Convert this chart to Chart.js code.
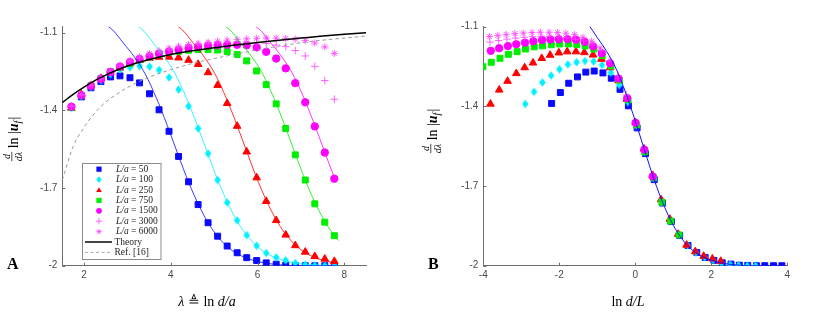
<!DOCTYPE html>
<html>
<head>
<meta charset="utf-8">
<script src="https://cdn.jsdelivr.net/npm/chart.js@4.4.1/dist/chart.umd.min.js"></script>
<style>
html,body{margin:0;padding:0;background:#fff;}
#wrap{position:relative;width:830px;height:313px;}
.panel{position:absolute;top:0;width:415px;height:313px;}
#pa{left:0}
#pb{left:415px}
</style>
</head>
<body>
<div id="wrap">
  <div class="panel" id="pa"><canvas id="chartA" width="415" height="313"></canvas></div>
  <div class="panel" id="pb"><canvas id="chartB" width="415" height="313"></canvas></div>
</div>
<script>
// ─── data ───────────────────────────────────────────────────────────────────
const lambda = [1.71, 1.94, 2.16, 2.39, 2.61, 2.83, 3.06, 3.28, 3.51, 3.73, 3.96, 4.18, 4.41, 4.63,
                4.86, 5.08, 5.30, 5.53, 5.75, 5.98, 6.20, 6.43, 6.65, 6.87, 7.10, 7.32, 7.55, 7.77];
const ratios = [50, 100, 250, 750, 1500, 3000, 6000];

const y50   = [-1.389, -1.348, -1.313, -1.289, -1.271, -1.267, -1.274, -1.294, -1.336, -1.398, -1.481, -1.578, -1.676, -1.764,
               -1.834, -1.886, -1.924, -1.950, -1.969, -1.980, -1.989, -1.994, -1.998, -1.999, -2.0, -2.0, -2.0, -2.0];
const y100  = [-1.391, -1.345, -1.310, -1.284, -1.260, -1.242, -1.234, -1.229, -1.231, -1.244, -1.273, -1.320, -1.384, -1.470,
               -1.567, -1.669, -1.756, -1.825, -1.882, -1.923, -1.951, -1.968, -1.979, -1.990, -1.996, -1.999, -2.0, -2.0];
const y250  = [-1.391, -1.338, -1.305, -1.276, -1.254, -1.236, -1.219, -1.207, -1.198, -1.194, -1.194, -1.197, -1.206, -1.222,
               -1.254, -1.303, -1.373, -1.461, -1.560, -1.660, -1.751, -1.825, -1.881, -1.922, -1.947, -1.964, -1.974, -1.983];
const y750  = [-1.389, -1.342, -1.305, -1.277, -1.251, -1.234, -1.219, -1.204, -1.194, -1.184, -1.176, -1.172, -1.168, -1.165,
               -1.165, -1.167, -1.173, -1.184, -1.209, -1.248, -1.301, -1.375, -1.470, -1.572, -1.669, -1.761, -1.832, -1.884];
const y1500 = [-1.386, -1.342, -1.306, -1.279, -1.252, -1.231, -1.214, -1.202, -1.191, -1.181, -1.173, -1.166, -1.160, -1.155,
               -1.150, -1.148, -1.147, -1.147, -1.149, -1.157, -1.174, -1.200, -1.238, -1.295, -1.369, -1.462, -1.563, -1.664];
const y3000 = [-1.384, -1.341, -1.304, -1.277, -1.250, -1.229, -1.211, -1.198, -1.186, -1.176, -1.166, -1.158, -1.152, -1.147,
               -1.143, -1.140, -1.137, -1.136, -1.136, -1.138, -1.142, -1.148, -1.154, -1.169, -1.190, -1.230, -1.285, -1.357];
const y6000 = [-1.383, -1.340, -1.303, -1.275, -1.248, -1.226, -1.208, -1.194, -1.181, -1.170, -1.160, -1.152, -1.146, -1.141,
               -1.137, -1.133, -1.129, -1.126, -1.124, -1.122, -1.121, -1.121, -1.122, -1.125, -1.130, -1.140, -1.155, -1.180];
const seriesY = [y50, y100, y250, y750, y1500, y3000, y6000];

// collapsed fit curve, x = ln d/L
const fitX = [-1.35, -1.25, -1.0, -0.75, -0.5, -0.25, 0.0, 0.25, 0.5, 0.75, 1.0, 1.25, 1.5, 1.75, 2.0, 2.25, 2.5, 2.75, 3.0, 3.5, 3.9];
const fitY = [-1.077, -1.090, -1.141, -1.194, -1.260, -1.350, -1.455, -1.568, -1.678, -1.772, -1.848, -1.903, -1.941, -1.965,
              -1.980, -1.989, -1.995, -1.998, -2.0, -2.0, -2.0];

const theoryX = [1.5, 1.75, 2.0, 2.25, 2.5, 2.75, 3.0, 3.5, 4.0, 4.5, 5.0, 5.5, 6.0, 6.5, 7.0, 7.5, 8.0, 8.5];
const theoryY = [-1.370, -1.338, -1.310, -1.285, -1.264, -1.245, -1.229, -1.204, -1.184, -1.170, -1.158, -1.148, -1.138, -1.129,
                 -1.121, -1.113, -1.106, -1.100];
const refY    = [-1.669, -1.540, -1.466, -1.410, -1.368, -1.338, -1.312, -1.272, -1.243, -1.219, -1.200, -1.183, -1.166, -1.152,
                 -1.139, -1.129, -1.121, -1.113];

const xTicksA = [2, 4, 6, 8];
const xTicksB = [-4, -2, 0, 2, 4];
const yTicks  = [-2, -1.7, -1.4, -1.1];

// ─── styling ────────────────────────────────────────────────────────────────
const AXIS = '#6e6e6e';
const TICKTXT = '#4a4a4a';
const SERIF = '"Liberation Serif", "DejaVu Serif", serif';

// MATLAB-like narrow diamond as a point image
function diamondImage(color, w, h) {
  const c = document.createElement('canvas');
  c.width = Math.ceil(w) + 2; c.height = Math.ceil(h) + 2;
  const g = c.getContext('2d');
  const cx = c.width / 2, cy = c.height / 2;
  g.fillStyle = color;
  g.beginPath();
  g.moveTo(cx, cy - h / 2); g.lineTo(cx + w / 2, cy); g.lineTo(cx, cy + h / 2); g.lineTo(cx - w / 2, cy);
  g.closePath(); g.fill();
  return c;
}

const MARK = [
  { color: '#0a0aff', style: 'rect',     r: 4.2, bw: 1 },
  { color: '#00f0ff', style: diamondImage('#00f0ff', 6.6, 8.4), r: 4, bw: 1, legend: 'rectRot' },
  { color: '#ff0000', style: 'triangle', r: 4.4, bw: 1 },
  { color: '#00ee00', style: 'rect',     r: 4.2, bw: 1 },
  { color: '#ff00ff', style: 'circle',   r: 3.7, bw: 1 },
  { color: '#ff40ff', style: 'cross',    r: 3.8, bw: 0.8 },
  { color: '#ff40ff', style: 'star',     r: 3.6, bw: 0.8 },
];

function markerSet(i, xs) {
  const m = MARK[i];
  const pts = [];
  xs.forEach((x, k) => pts.push({ x, y: seriesY[i][k] }));
  return {
    label: 'L/a = ' + ratios[i],
    data: pts,
    pointStyle: m.style,
    pointRadius: m.r,
    pointBorderWidth: m.bw,
    backgroundColor: m.color,
    borderColor: m.color,
    showLine: false,
    order: 20 - i,
  };
}

function lineSet(pts, color, width, dash, order) {
  return {
    data: pts,
    showLine: true,
    pointRadius: 0,
    borderColor: color,
    borderWidth: width,
    borderDash: dash || [],
    cubicInterpolationMode: 'monotone',
    fill: false,
    order,
  };
}

// inward tick marks, MATLAB style
const inwardTicks = {
  id: 'inwardTicks',
  afterDraw(chart) {
    const { ctx, chartArea: a, scales: { x, y } } = chart;
    ctx.save();
    ctx.strokeStyle = AXIS;
    ctx.lineWidth = 1;
    ctx.beginPath();
    x.ticks.forEach(t => { const p = Math.round(x.getPixelForValue(t.value)) + 0.5; ctx.moveTo(p, a.bottom); ctx.lineTo(p, a.bottom - 3); });
    y.ticks.forEach(t => { const p = Math.round(y.getPixelForValue(t.value)) + 0.5; ctx.moveTo(a.left, p); ctx.lineTo(a.left + 3, p); });
    ctx.stroke();
    ctx.restore();
  }
};

function drawRich(ctx, parts, x, y) {
  let w = 0;
  parts.forEach(p => { ctx.font = p[1]; w += ctx.measureText(p[0]).width; });
  let cx = x - w / 2;
  parts.forEach(p => { ctx.font = p[1]; ctx.fillText(p[0], cx, y + (p[2] || 0)); cx += ctx.measureText(p[0]).width; });
}

function yTitle(ctx, cx, cy) {
  ctx.save();
  ctx.translate(cx, cy);
  ctx.rotate(-Math.PI / 2);
  ctx.fillStyle = '#000';
  ctx.textBaseline = 'alphabetic';
  const fr = 'italic 10px ' + SERIF;
  const main = '14px ' + SERIF;
  const uf = 'bold italic 14px ' + SERIF;
  const sub = 'italic 10px ' + SERIF;
  ctx.font = fr;
  const fw = ctx.measureText('dλ').width;
  ctx.font = main;
  const lnW = ctx.measureText(' ln |').width;
  ctx.font = uf;
  const uW = ctx.measureText('u').width;
  ctx.font = sub;
  const fW = ctx.measureText('f').width;
  ctx.font = main;
  const total = fw + lnW + uW + fW + ctx.measureText('|').width + 1;
  let x = -total / 2;
  // fraction d / dλ
  ctx.font = fr;
  ctx.textAlign = 'center';
  ctx.fillText('d', x + fw / 2, -3);
  ctx.fillText('dλ', x + fw / 2, 8.5);
  ctx.fillRect(x, -1.5, fw, 0.7);
  ctx.textAlign = 'left';
  x += fw;
  ctx.font = main; ctx.fillText(' ln |', x, 4.5); x += lnW;
  ctx.font = uf; ctx.fillText('u', x, 4.5); x += uW;
  ctx.font = sub; ctx.fillText('f', x, 7.5); x += fW + 1;
  ctx.font = main; ctx.fillText('|', x, 4.5);
  ctx.restore();
}

function drawMarker(ctx, m, x, y, r) {
  const style = m.legend || m.style;
  ctx.save();
  ctx.fillStyle = m.color;
  ctx.strokeStyle = m.color;
  ctx.lineWidth = m.bw;
  ctx.beginPath();
  if (style === 'rect') { ctx.rect(x - r, y - r, 2 * r, 2 * r); ctx.fill(); }
  else if (style === 'rectRot') { ctx.moveTo(x, y - r * 1.3); ctx.lineTo(x + r, y); ctx.lineTo(x, y + r * 1.3); ctx.lineTo(x - r, y); ctx.closePath(); ctx.fill(); }
  else if (style === 'triangle') { ctx.moveTo(x, y - r * 1.1); ctx.lineTo(x + r * 1.1, y + r * 0.8); ctx.lineTo(x - r * 1.1, y + r * 0.8); ctx.closePath(); ctx.fill(); }
  else if (style === 'circle') { ctx.arc(x, y, r * 1.1, 0, Math.PI * 2); ctx.fill(); }
  else if (style === 'cross') { ctx.moveTo(x - r * 1.2, y); ctx.lineTo(x + r * 1.2, y); ctx.moveTo(x, y - r * 1.2); ctx.lineTo(x, y + r * 1.2); ctx.stroke(); }
  else if (style === 'star') {
    for (let a = 0; a < 4; a++) { const t = a * Math.PI / 4; ctx.moveTo(x - Math.cos(t) * r, y - Math.sin(t) * r); ctx.lineTo(x + Math.cos(t) * r, y + Math.sin(t) * r); }
    ctx.stroke();
  }
  ctx.restore();
}

// legend box inside panel A
const legendA = {
  id: 'legendA',
  afterDraw(chart) {
    const ctx = chart.ctx;
    ctx.save();
    ctx.fillStyle = '#fff';
    ctx.fillRect(82.5, 163.5, 78.5, 96);
    ctx.strokeStyle = '#8a8a8a';
    ctx.lineWidth = 1;
    ctx.strokeRect(82.5, 163.5, 78.5, 96);
    ctx.textBaseline = 'middle';
    const row0 = 169.2, dy = 10.4;
    ratios.forEach((rv, i) => {
      const yy = row0 + i * dy;
      drawMarker(ctx, MARK[i], 99, yy, 2.6);
      ctx.fillStyle = '#222';
      ctx.font = 'italic 9.5px ' + SERIF;
      ctx.textAlign = 'left';
      ctx.fillText('L/a', 116, yy);
      const w = ctx.measureText('L/a').width;
      ctx.font = '9.5px ' + SERIF;
      ctx.fillText(' = ' + rv, 116 + w, yy);
    });
    let yy = row0 + 7 * dy;
    ctx.strokeStyle = '#444'; ctx.lineWidth = 2;
    ctx.beginPath(); ctx.moveTo(85, yy); ctx.lineTo(112, yy); ctx.stroke();
    ctx.fillStyle = '#222'; ctx.font = '9.5px ' + SERIF;
    ctx.fillText('Theory', 114.5, yy);
    yy += dy;
    ctx.strokeStyle = '#a8a8a8'; ctx.lineWidth = 1; ctx.setLineDash([3, 2.5]);
    ctx.beginPath(); ctx.moveTo(85, yy); ctx.lineTo(112, yy); ctx.stroke();
    ctx.setLineDash([]);
    ctx.fillText('Ref. [16]', 114.5, yy);
    ctx.restore();
  }
};

function titlesPlugin(cfg) {
  return {
    id: 'titles',
    afterDraw(chart) {
      const ctx = chart.ctx;
      ctx.save();
      ctx.fillStyle = '#000';
      ctx.textBaseline = 'alphabetic';
      drawRich(ctx, cfg.xTitle, cfg.xTitleX, 306);
      yTitle(ctx, cfg.yTitleX, cfg.yTitleY);
      ctx.font = 'bold 16px ' + SERIF;
      ctx.textAlign = 'left';
      ctx.fillText(cfg.letter, cfg.letterX, 269);
      ctx.restore();
    }
  };
}

function axisOpts(min, max, ticks, isX, fitSize) {
  return {
    type: 'linear',
    min, max,
    grid: { display: false, drawTicks: false },
    border: { display: true, color: AXIS, width: 1 },
    afterBuildTicks: s => { s.ticks = ticks.map(v => ({ value: v })); },
    afterFit: s => { if (isX) s.height = fitSize; else s.width = fitSize; },
    ticks: {
      color: TICKTXT,
      padding: isX ? 4 : 5,
      font: { family: 'Liberation Sans', size: 10 },
      callback: v => String(v),
    },
  };
}

function baseOptions(xMin, xMax, xTicks, yMax, area) {
  return {
    responsive: false,
    animation: false,
    events: [],
    layout: { padding: { left: 0, top: area.top, right: 415 - area.right, bottom: 0 } },
    plugins: { legend: { display: false }, tooltip: { enabled: false } },
    scales: {
      x: axisOpts(xMin, xMax, xTicks, true, 313 - area.bottom),
      y: axisOpts(-2, yMax, yTicks, false, area.left),
    },
  };
}

// ─── panel A ────────────────────────────────────────────────────────────────
const lastLambda = lambda[lambda.length - 1];
const dsA = ratios.map((r, i) => markerSet(i, lambda));
ratios.slice(0, 5).forEach((r, i) => {
  const pts = [];
  fitX.forEach((fx, k) => { const xx = fx + Math.log(r); if (xx <= lastLambda + 0.12) pts.push({ x: xx, y: fitY[k] }); });
  dsA.push(lineSet(pts, MARK[i].color, 0.8, null, 5));
});
dsA.push(lineSet(theoryX.map((x, k) => ({ x, y: refY[k] })), '#9a9a9a', 1, [3.5, 3], 3));
dsA.push(lineSet(theoryX.map((x, k) => ({ x, y: theoryY[k] })), '#000', 1.5, null, 2));

new Chart(document.getElementById('chartA'), {
  type: 'scatter',
  data: { datasets: dsA },
  options: baseOptions(1.5, 8.5, xTicksA, -1.077, { left: 62.3, right: 366, top: 26.7, bottom: 265.7 }),
  plugins: [inwardTicks, legendA, titlesPlugin({
    xTitle: [['λ', 'italic 14px ' + SERIF], [' ≜ ', '14px ' + SERIF], ['ln ', '14px ' + SERIF], ['d/a', 'italic 14px ' + SERIF]],
    xTitleX: 207, yTitleX: 13, yTitleY: 139, letter: 'A', letterX: 7,
  })],
});

// ─── panel B (x = ln d/L) ───────────────────────────────────────────────────
const dsB = ratios.map((r, i) => {
  const ds = markerSet(i, lambda.map(l => l - Math.log(r)));
  ds.data = ds.data.filter(p => p.x >= -4.02);
  return ds;
});
dsB.push(lineSet(fitX.map((x, k) => ({ x, y: fitY[k] })), '#1010ff', 1, null, 2));

new Chart(document.getElementById('chartB'), {
  type: 'scatter',
  data: { datasets: dsB },
  options: baseOptions(-4, 4, xTicksB, -1.1, { left: 68.3, right: 372.3, top: 26.7, bottom: 265.7 }),
  plugins: [inwardTicks, titlesPlugin({
    xTitle: [['ln ', '14px ' + SERIF], ['d/L', 'italic 14px ' + SERIF]],
    xTitleX: 213, yTitleX: 17, yTitleY: 131, letter: 'B', letterX: 13,
  })],
});
</script>
</body>
</html>
